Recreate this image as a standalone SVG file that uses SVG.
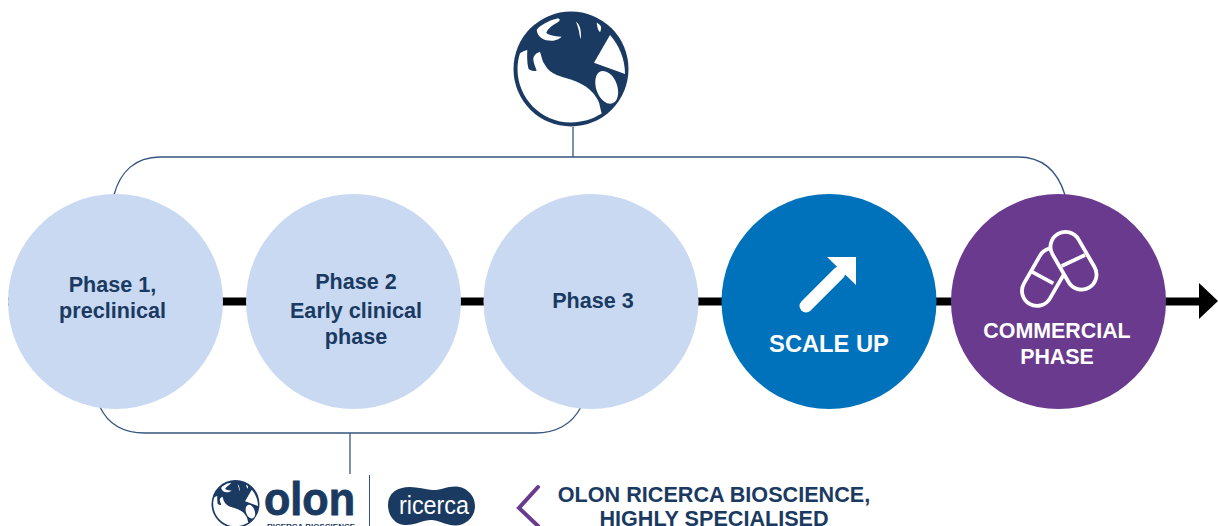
<svg xmlns="http://www.w3.org/2000/svg" xmlns:xlink="http://www.w3.org/1999/xlink" width="1218" height="526" viewBox="0 0 1218 526">
<style>
.t{font-family:"Liberation Sans",Arial,sans-serif;font-weight:700;text-anchor:middle}
.n{fill:#1a3a62;font-size:21.6px}
.w{fill:#fff}
.br{fill:none;stroke:#34557f;stroke-width:1.3}
.lg{fill:#1a3a62}
.wf{fill:#fff}
</style>
<defs>
<g id="globe">
<circle cx="571" cy="69" r="57.500" class="lg"/>
<path class="wf" d="M520,53.300C522,52 525,50.500 527.300,50C527,56 527,62 528.300,68.300C530,70.500 533,71.800 536.700,70.700C535,66 533,62 533.300,58.300C534,55 537,52.500 540,51.700C541.500,56 542,61 545,65C548,70 552,73 556.700,75C563,77.500 570,79 576.700,81.700C583,84.500 589,88 593.300,93.300C597,98 599.500,102 600,106.700C600.500,109 601,111 601.700,113.400C592,119.500 582,122 571,122.500C541,122.500 517.500,98 517.500,69C517.500,63 518.500,58 520,53.300Z"/>
<path class="wf" d="M610,35L594,62.700L625,74C625,59 619,45 610,35Z"/>
<ellipse cx="606.700" cy="87.300" rx="10.500" ry="17" transform="rotate(-20 606.700 87.300)" class="wf"/>
<path class="wf" d="M558.300,18.300C553,19.500 549,21 545,23.300C541,25.500 538,27.500 536.700,30C537,33.500 539,36.500 541.700,38.300C545,40.500 549.500,41 553.300,40.700C557,40 560,38.500 561.700,36.700C557,36.500 552,36 548.300,34.300C546.500,33.500 546,32.500 546.700,31.700C548,29 551,26.500 553.300,25C556,23.500 558.500,22 560,20Z"/>
<path class="wf" d="M576,21.700C578.500,23.500 580,26.500 580.500,30C581,33 581.200,36.500 580.700,39.300C579.800,36.500 579.300,33 578.700,30C578,27 577,24.500 576,21.700Z"/>
<path class="wf" d="M596.700,22.700C598.500,23.500 600.500,25 601,26.700C601.300,28.500 600.800,30.500 600,32.300C598.800,31 598,29.500 597.700,28.300C597.200,26.500 596.800,24.500 596.700,22.700Z"/>
</g>
</defs>
<rect width="1218" height="526" fill="#fff"/>
<g id="connectors">
<line x1="8" y1="301.500" x2="1202" y2="301.500" stroke="#000" stroke-width="8"/>
<polygon points="1199,283 1218,301 1199,319" fill="#000"/>
<path class="br" d="M114,195C120,172 135,157 160,157H1018C1043,157 1058,172 1065,195"/>
<line class="br" x1="573" y1="127" x2="573" y2="157"/>
<path class="br" d="M100,407C108,424 122,433 145,433H535C558,433 572,424 581,407"/>
<line class="br" x1="350" y1="433" x2="350" y2="474"/>
</g>
<g id="logo-top"><use href="#globe"/></g>
<g id="phase-1"><circle cx="115.500" cy="301.500" r="107.500" fill="#c9d9f2"/><text class="t n" x="112.500" y="292">Phase 1,</text><text class="t n" x="112.500" y="318">preclinical</text></g>
<g id="phase-2"><circle cx="353.500" cy="301.500" r="107.500" fill="#c9d9f2"/><text class="t n" x="356" y="289">Phase 2</text><text class="t n" x="356" y="318">Early clinical</text><text class="t n" x="356" y="344">phase</text></g>
<g id="phase-3"><circle cx="591" cy="301.500" r="107.500" fill="#c9d9f2"/><text class="t n" x="593" y="308">Phase 3</text></g>
<g id="scale-up"><circle cx="829" cy="301.500" r="107.500" fill="#0072bc"/>
<path d="M806,306L839,273" stroke="#fff" stroke-width="13" stroke-linecap="round" fill="none"/>
<polygon points="827,257 856,257 856,285" fill="#fff"/>
<text class="t w" x="829" y="351.500" font-size="23.700">SCALE UP</text></g>
<g id="commercial-phase"><circle cx="1058.500" cy="301.500" r="107.500" fill="#693a8d"/>
<g fill="none" stroke="#fff" stroke-width="3.800">
<rect x="-15" y="-31" width="30" height="62" rx="15" transform="translate(1045,277) rotate(30)"/>
<rect x="-15" y="-31" width="30" height="62" rx="15" transform="translate(1073.500,260.700) rotate(-30)" fill="#693a8d"/>
<line x1="1031.700" y1="271.700" x2="1053.300" y2="283.300"/>
<line x1="1061.700" y1="266" x2="1085" y2="255"/>
</g>
<text class="t w" x="1057" y="338" font-size="21.400">COMMERCIAL</text><text class="t w" x="1057" y="364" font-size="21.400">PHASE</text></g>
<g id="logo-bottom">
<use href="#globe" transform="translate(235.500 504) scale(0.417) translate(-571 -69)"/>
<text x="264" y="514.500" font-family="Liberation Sans,Arial,sans-serif" font-weight="700" font-size="46" textLength="91" lengthAdjust="spacingAndGlyphs" class="lg" stroke="#1a3a62" stroke-width="0.900">olon</text>
<text x="267" y="528.500" font-family="Liberation Sans,Arial,sans-serif" font-weight="700" font-size="8" textLength="88" class="lg">RICERCA BIOSCIENCE</text>
<line x1="369.500" y1="475" x2="369.500" y2="526" stroke="#34557f" stroke-width="1"/>
<path class="lg" d="M388,505C388,493 397,487 410,487C418,487 425,489.500 432,490C440,490.500 447,486.500 455,486.500C466,486.500 475,495 475,506C475,517 466,525.500 455,525.500C447,525.500 441,521 432,520C424,519.500 416,525 406,525C395,525 388,516 388,505Z"/>
<text x="399" y="514" font-family="Liberation Sans,Arial,sans-serif" font-size="25" textLength="70" lengthAdjust="spacingAndGlyphs" fill="#fff">ricerca</text>
</g>
<g id="callout">
<path d="M538,487L519,508L538,526" fill="none" stroke="#693a8d" stroke-width="4" stroke-linecap="round"/>
<text class="t n" x="714" y="502">OLON RICERCA BIOSCIENCE,</text>
<text class="t n" x="714" y="526">HIGHLY SPECIALISED</text>
</g>
</svg>
